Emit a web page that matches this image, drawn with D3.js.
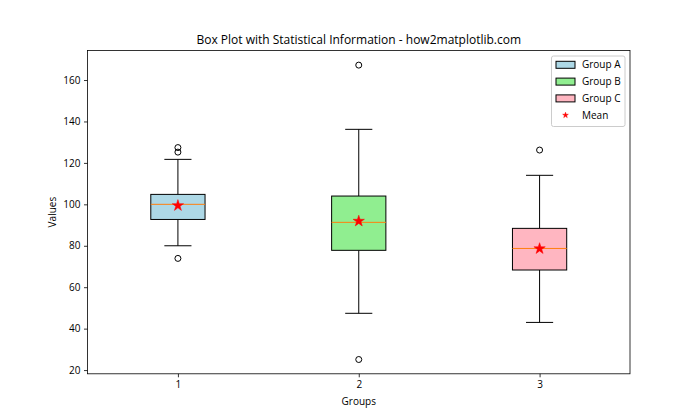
<!DOCTYPE html>
<html><head><meta charset="utf-8">
<script src="https://cdn.jsdelivr.net/npm/d3@7"></script>
<style>body{margin:0;background:#fff}svg{display:block}text{font-family:"Open Sans","Noto Sans",sans-serif;fill:#000}</style>
</head><body><svg id="c" width="700" height="420"></svg>
<script>
const groups = ["Group A","Group B","Group C"];
const positions = [1,2,3];
const fills = ["#add8e6","#90ee90","#ffb6c1"];
const q1s = [92.7, 77.8, 68.3];
const medians = [100.0, 91.3, 78.7];
const q3s = [104.8, 104.0, 88.4];
const whiskLo = [80.0, 47.4, 43.0];
const whiskHi = [121.7, 136.2, 114.0];
const means = [99.4, 91.9, 78.6];
const outliers = [[127.4, 125.2, 73.9], [167.2, 25.1], [126.2]];
const yTicks = [20,40,60,80,100,120,140,160];
const title = "Box Plot with Statistical Information - how2matplotlib.com";

const svg = d3.select("#c");
const L=87.5, R=630, T=50.4, B=373.8;
const x = d3.scaleLinear().domain([0.5,3.5]).range([L,R]);
const y = d3.scaleLinear().domain([18.2,174.3]).range([B,T]);
const bw = 0.3, cw = 0.15;

// axes
const ya = svg.append("g").attr("transform",`translate(${L},0)`)
  .call(d3.axisLeft(y).tickValues(yTicks).tickSize(3.5).tickPadding(3.5).tickFormat(d3.format("d")));
const xa = svg.append("g").attr("transform",`translate(0,${B})`)
  .call(d3.axisBottom(x).tickValues(positions).tickSize(3.5).tickPadding(3.5).tickFormat(d3.format("d")));
[ya,xa].forEach(a=>{a.select(".domain").remove();a.selectAll("line").attr("stroke","#000").attr("stroke-width",0.8);a.selectAll("text").attr("font-size",10).attr("font-family",'"Open Sans","Noto Sans",sans-serif');});

const g = svg.append("g");
positions.forEach((p,i)=>{
  const c = x(p);
  // whiskers
  g.append("line").attr("x1",c).attr("x2",c).attr("y1",y(q3s[i])).attr("y2",y(whiskHi[i])).attr("stroke","#000");
  g.append("line").attr("x1",c).attr("x2",c).attr("y1",y(q1s[i])).attr("y2",y(whiskLo[i])).attr("stroke","#000");
  // caps
  g.append("line").attr("x1",x(p-cw/2)).attr("x2",x(p+cw/2)).attr("y1",y(whiskHi[i])).attr("y2",y(whiskHi[i])).attr("stroke","#000");
  g.append("line").attr("x1",x(p-cw/2)).attr("x2",x(p+cw/2)).attr("y1",y(whiskLo[i])).attr("y2",y(whiskLo[i])).attr("stroke","#000");
  // box
  g.append("rect").attr("x",x(p-bw/2)).attr("y",y(q3s[i])).attr("width",x(p+bw/2)-x(p-bw/2)).attr("height",y(q1s[i])-y(q3s[i]))
    .attr("fill",fills[i]).attr("stroke","#000").attr("stroke-width",1);
  // median
  g.append("line").attr("x1",x(p-bw/2)).attr("x2",x(p+bw/2)).attr("y1",y(medians[i])).attr("y2",y(medians[i])).attr("stroke","#ff7f0e").attr("stroke-width",1);
  // outliers
  outliers[i].forEach(v=>{
    g.append("circle").attr("cx",c).attr("cy",y(v)).attr("r",3).attr("fill","none").attr("stroke","#000").attr("stroke-width",1);
  });
  // mean
  g.append("path").attr("d",d3.symbol(d3.symbolStar,40)()).attr("transform",`translate(${c},${y(means[i])})`)
    .attr("fill","#ff0000").attr("stroke","#ff0000").attr("stroke-width",0.5);
});

// frame
svg.append("rect").attr("x",L).attr("y",T).attr("width",R-L).attr("height",B-T).attr("fill","none").attr("stroke","#000").attr("stroke-width",0.8);

// title & labels
svg.append("text").attr("x",(L+R)/2).attr("y",T-6).attr("text-anchor","middle").attr("font-size",12).text(title);
svg.append("text").attr("x",(L+R)/2).attr("y",405).attr("text-anchor","middle").attr("font-size",10).text("Groups");
svg.append("text").attr("transform",`translate(56,${(T+B)/2}) rotate(-90)`).attr("text-anchor","middle").attr("font-size",10).text("Values");

// legend
const lg = svg.append("g");
lg.append("rect").attr("x",551.5).attr("y",56).attr("width",73.5).attr("height",70.5).attr("rx",2)
  .attr("fill","#fff").attr("fill-opacity",0.8).attr("stroke","#ccc").attr("stroke-width",1);
const labels = groups.concat(["Mean"]);
labels.forEach((t,i)=>{
  const cy = 64.8 + i*16.8;
  if(i<3){
    lg.append("rect").attr("x",556).attr("y",cy-3.5).attr("width",19).attr("height",7).attr("fill",fills[i]).attr("stroke","#000").attr("stroke-width",1);
  } else {
    lg.append("path").attr("d",d3.symbol(d3.symbolStar,10)()).attr("transform",`translate(565.5,${cy})`).attr("fill","#ff0000").attr("stroke","#ff0000").attr("stroke-width",0.5);
  }
  lg.append("text").attr("x",582).attr("y",cy).attr("dy","0.35em").attr("font-size",10).text(t);
});
</script></body></html>
